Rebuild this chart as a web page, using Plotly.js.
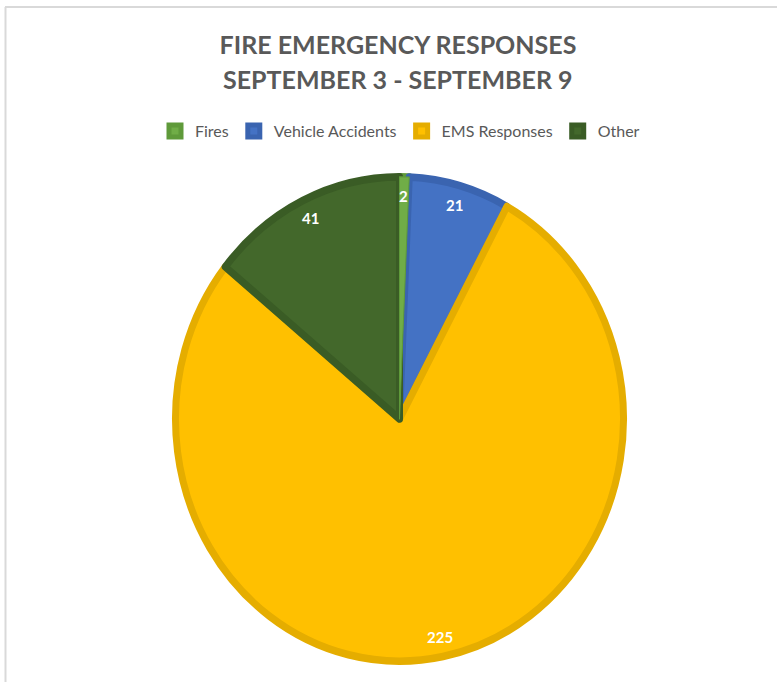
<!DOCTYPE html>
<html>
<head>
<meta charset="utf-8">
<script src="https://cdn.plot.ly/plotly-3.0.1.min.js"></script>
<style>
  html, body { margin: 0; padding: 0; background: #ffffff; }
  #chart { width: 777px; height: 682px; }
  /* the reference pie is slightly taller than wide */
  #chart .pielayer { transform-origin: 399.5px 419px; transform: scale(1, 1.081); }
</style>
</head>
<body>
<div id="chart"></div>
<script>
// ---- data ----
const categories = ["Fires", "Vehicle Accidents", "EMS Responses", "Other"];
const responses = [2, 21, 225, 41];
const fillColors = ["#70AD47", "#4472C4", "#FFC000", "#43682B"];
const edgeColors = ["#5f9a3a", "#3a64b0", "#e5ad00", "#3a5c25"];
const titleLines = ["FIRE EMERGENCY RESPONSES", "SEPTEMBER 3 - SEPTEMBER 9"];

// ---- layout geometry ----
const W = 777, H = 682;
const cx = 399.5, cy = 419, R = 224;
const SY = 1.081;
const domX = [(cx - R) / W, (cx + R) / W];
const domY = [(H - cy - R) / H, (H - cy + R) / H];
const FONT = "Lato, 'Open Sans', sans-serif";
const titleX = 398 / W;

// value labels placed along each slice's mid-angle (computed from the data)
const total = responses.reduce((a, b) => a + b, 0);
let cum = 0;
const annotations = responses.map((v) => {
  const mid = (cum + v / 2) / total * 2 * Math.PI;
  cum += v;
  const k = 0.905;
  const px = cx + k * (R + 3.5) * Math.sin(mid);
  const py = cy - k * (R + 3.5) * SY * Math.cos(mid);
  return {
    x: px / W, y: 1 - py / H, xref: "paper", yref: "paper",
    text: String(v), showarrow: false,
    xanchor: "center", yanchor: "middle",
    font: { family: FONT, size: 15, color: "#ffffff", weight: "bold" }
  };
});
// second title line
annotations.push({
  x: titleX, y: 1 - 79 / H, xref: "paper", yref: "paper",
  text: "<b>" + titleLines[1] + "</b>", showarrow: false,
  xanchor: "center", yanchor: "middle",
  font: { family: FONT, size: 25, color: "#595959" }
});

const mainPie = {
  type: "pie",
  labels: categories,
  values: responses,
  sort: false,
  direction: "clockwise",
  rotation: 0,
  marker: { colors: fillColors, line: { color: edgeColors, width: 7 } },
  textinfo: "none",
  hoverinfo: "skip",
  domain: { x: domX, y: domY }
};

// overlay so the very thin "Fires" slice is not hidden by its neighbours' borders
const overlayPie = {
  type: "pie",
  labels: categories,
  values: responses,
  sort: false,
  direction: "clockwise",
  rotation: 0,
  marker: {
    colors: fillColors.map((c, i) => (i === 0 ? c : "rgba(0,0,0,0)")),
    line: { color: edgeColors.map((c, i) => (i === 0 ? c : "rgba(0,0,0,0)")), width: 1 }
  },
  textinfo: "none",
  hoverinfo: "skip",
  showlegend: false,
  domain: { x: domX, y: domY }
};

const layout = {
  width: W, height: H,
  margin: { l: 0, r: 0, t: 0, b: 0 },
  paper_bgcolor: "#ffffff",
  font: { family: FONT, color: "#595959" },
  title: {
    text: "<b>" + titleLines[0] + "</b>",
    font: { family: FONT, size: 25, color: "#595959" },
    x: titleX, xanchor: "center", xref: "paper",
    y: 1 - 45 / H, yanchor: "middle", yref: "paper"
  },
  showlegend: true,
  legend: {
    orientation: "h",
    x: 400 / W, xanchor: "center",
    y: 1 - 131 / H, yanchor: "middle",
    itemwidth: 30,
    font: { family: FONT, size: 16, color: "#595959" },
    itemclick: false, itemdoubleclick: false
  },
  annotations: annotations,
  shapes: [
    { type: "line", xref: "paper", yref: "paper", x0: 5 / W, x1: 1, y0: 1 - 7 / H, y1: 1 - 7 / H,
      line: { color: "#d9d9d9", width: 2 } },
    { type: "line", xref: "paper", yref: "paper", x0: 5.5 / W, x1: 5.5 / W, y0: 0, y1: 1 - 7 / H,
      line: { color: "#d9d9d9", width: 2 } }
  ]
};

Plotly.newPlot("chart", [mainPie, overlayPie], layout, { displayModeBar: false, staticPlot: true });
</script>
</body>
</html>
